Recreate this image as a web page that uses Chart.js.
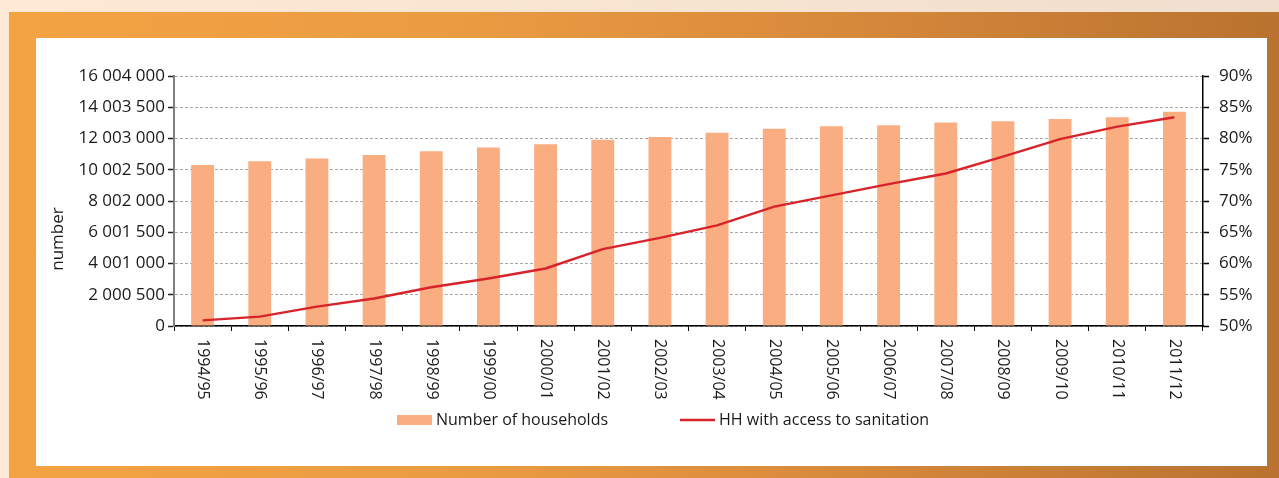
<!DOCTYPE html>
<html>
<head>
<meta charset="utf-8">
<script src="https://cdn.jsdelivr.net/npm/chart.js@4.4.1/dist/chart.umd.min.js"></script>
<style>
  html, body { margin: 0; padding: 0; }
  body {
    width: 1279px; height: 478px; overflow: hidden; position: relative;
    background: linear-gradient(90deg, #fde9d5 0%, #f6e3d0 60%, #f0dfcf 100%);
    font-family: "Open Sans", sans-serif;
  }
  #frame {
    position: absolute; left: 9px; top: 12px; right: 0; bottom: 0;
    background: linear-gradient(90deg, #f4a343 0%, #eb9c42 35%, #d88a3c 65%, #b9722f 100%);
  }
  #panel {
    position: absolute; left: 36px; top: 38px; width: 1231px; height: 428px;
    background: #fff;
  }
</style>
</head>
<body>
<div id="frame"></div>
<div id="panel"><canvas id="chart"></canvas></div>
<script>
const years = ['1994/95', '1995/96', '1996/97', '1997/98', '1998/99', '1999/00', '2000/01', '2001/02', '2002/03',
  '2003/04', '2004/05', '2005/06', '2006/07', '2007/08', '2008/09', '2009/10', '2010/11', '2011/12'];

const households = [10310000, 10540000, 10730000, 10950000, 11180000, 11420000, 11630000, 11930000, 12100000,
  12370000, 12630000, 12780000, 12850000, 13020000, 13100000, 13250000, 13360000, 13720000];

const sanitationPct = [50.9, 51.5, 53.1, 54.4, 56.2, 57.6, 59.2, 62.3, 64.1,
  66.1, 69.1, 70.9, 72.7, 74.4, 77.1, 79.9, 81.9, 83.4];

const leftTicks = { min: 0, max: 16004000, step: 2000500 };
const rightTicks = { min: 50, max: 90, step: 5 };

const FONT = '"Open Sans", sans-serif';
const TEXT = '#1a1a1a';

function spaced(v) {
  return String(Math.round(v)).replace(/\B(?=(\d{3})+(?!\d))/g, ' ');
}

// x labels read top-to-bottom, plus y title and the legend
const extras = {
  id: 'extras',
  afterDraw(chart) {
    const ctx = chart.ctx;
    const x = chart.scales.x;
    ctx.save();
    ctx.fillStyle = TEXT;
    ctx.font = '16px ' + FONT;
    ctx.textAlign = 'left';
    ctx.textBaseline = 'middle';
    chart.data.labels.forEach((lab, i) => {
      ctx.save();
      ctx.translate(x.getPixelForTick(i), x.top + 13);
      ctx.rotate(Math.PI / 2);
      ctx.fillText(lab, 0, 0);
      ctx.restore();
    });

    // axis title
    ctx.save();
    ctx.font = '17px ' + FONT;
    ctx.translate(22, 201);
    ctx.rotate(-Math.PI / 2);
    ctx.textAlign = 'center';
    ctx.fillText('number', 0, 0);
    ctx.restore();

    // legend, two items spread under the plot
    const bars = chart.data.datasets.find(d => d.type !== 'line');
    const line = chart.data.datasets.find(d => d.type === 'line');
    const ly = 382;
    ctx.font = '16px ' + FONT;
    let lx = 361;
    ctx.fillStyle = bars.backgroundColor;
    ctx.fillRect(lx, ly - 5, 35, 10);
    ctx.fillStyle = TEXT;
    ctx.fillText(bars.label, lx + 39, ly);
    lx = 644;
    ctx.strokeStyle = line.borderColor;
    ctx.lineWidth = 2.5;
    ctx.beginPath();
    ctx.moveTo(lx, ly);
    ctx.lineTo(lx + 35, ly);
    ctx.stroke();
    ctx.fillText(line.label, lx + 39, ly);
    ctx.restore();
  }
};

new Chart(document.getElementById('chart'), {
  type: 'bar',
  data: {
    labels: years,
    datasets: [
      {
        type: 'line',
        label: 'HH with access to sanitation',
        data: sanitationPct,
        yAxisID: 'y1',
        borderColor: '#d8232a',
        borderWidth: 2.5,
        pointRadius: 0,
        tension: 0,
        order: 0
      },
      {
        label: 'Number of households',
        data: households,
        yAxisID: 'y',
        backgroundColor: '#f9ad81',
        barPercentage: 0.8,
        categoryPercentage: 0.5,
        order: 1
      }
    ]
  },
  options: {
    responsive: true,
    maintainAspectRatio: false,
    animation: false,
    layout: { padding: { top: 38, left: 0, right: 0, bottom: 0 } },
    plugins: { legend: { display: false }, tooltip: { enabled: false } },
    scales: {
      x: {
        offset: true,
        grid: { offset: true, drawOnChartArea: false, tickLength: 5, tickColor: '#000', tickWidth: 1 },
        border: { color: '#000', width: 1.5 },
        ticks: { display: false },
        afterFit(s) { s.height = 140; }
      },
      y: {
        position: 'left',
        min: leftTicks.min,
        max: leftTicks.max,
        ticks: {
          stepSize: leftTicks.step,
          color: TEXT,
          font: { family: FONT, size: 17 },
          padding: 3,
          callback: (v) => spaced(v)
        },
        grid: {
          color: '#a8a8a8',
          tickLength: 6,
          tickColor: '#222',
          tickBorderDash: [],
          tickWidth: 1.5
        },
        border: { color: '#808080', width: 2, dash: [3, 2] },
        afterFit(s) { s.width = 138; }
      },
      y1: {
        position: 'right',
        min: rightTicks.min,
        max: rightTicks.max,
        ticks: {
          stepSize: rightTicks.step,
          color: TEXT,
          font: { family: FONT, size: 17 },
          padding: 10,
          callback: (v) => v + '%'
        },
        grid: { drawOnChartArea: false, tickLength: 6, tickColor: '#000', tickWidth: 1.5 },
        border: { color: '#000', width: 1.5 },
        afterFit(s) { s.width = 64; }
      }
    }
  },
  plugins: [extras]
});
</script>
</body>
</html>
